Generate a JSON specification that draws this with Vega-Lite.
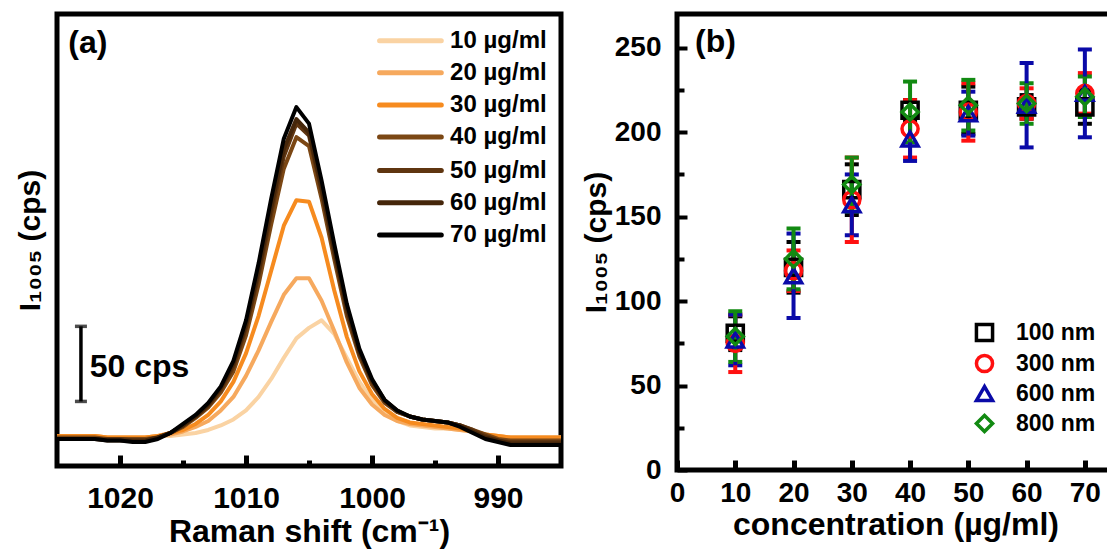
{
  "$schema": "https://vega.github.io/schema/vega-lite/v6.json",
  "background": "white",
  "padding": {"left": 12, "top": 11, "right": 0, "bottom": 0},
  "spacing": 12,
  "resolve": {"scale": {"color": "independent", "shape": "independent", "size": "independent"}, "legend": {"color": "independent", "shape": "independent", "size": "independent"}},
  "config": {
    "view": {"stroke": "#000", "strokeWidth": 5},
    "font": "Liberation Sans",
    "axis": {"labelFont": "Liberation Sans", "titleFont": "Liberation Sans", "labelFontWeight": "bold", "titleFontWeight": "bold", "labelColor": "#000", "titleColor": "#000", "tickColor": "#000", "grid": false, "domain": false, "labelOverlap": false, "labelFlush": false}
  },
  "datasets": {
    "spec": [
      {"x":1025,"y":20,"c":"10 µg/ml"},{"x":1024,"y":20,"c":"10 µg/ml"},{"x":1023,"y":20,"c":"10 µg/ml"},{"x":1022,"y":20,"c":"10 µg/ml"},{"x":1021,"y":19,"c":"10 µg/ml"},{"x":1020,"y":19,"c":"10 µg/ml"},{"x":1019,"y":19,"c":"10 µg/ml"},{"x":1018,"y":19,"c":"10 µg/ml"},{"x":1017,"y":20,"c":"10 µg/ml"},{"x":1016,"y":20,"c":"10 µg/ml"},{"x":1015,"y":21,"c":"10 µg/ml"},{"x":1014,"y":22,"c":"10 µg/ml"},{"x":1013,"y":24,"c":"10 µg/ml"},{"x":1012,"y":27,"c":"10 µg/ml"},{"x":1011,"y":31,"c":"10 µg/ml"},{"x":1010,"y":37,"c":"10 µg/ml"},{"x":1009,"y":46,"c":"10 µg/ml"},{"x":1008,"y":58,"c":"10 µg/ml"},{"x":1007,"y":72,"c":"10 µg/ml"},{"x":1006,"y":85,"c":"10 µg/ml"},{"x":1005,"y":92,"c":"10 µg/ml"},{"x":1004,"y":97,"c":"10 µg/ml"},{"x":1003,"y":88,"c":"10 µg/ml"},{"x":1002,"y":72,"c":"10 µg/ml"},{"x":1001,"y":56,"c":"10 µg/ml"},{"x":1000,"y":44,"c":"10 µg/ml"},{"x":999,"y":35,"c":"10 µg/ml"},{"x":998,"y":30,"c":"10 µg/ml"},{"x":997,"y":27,"c":"10 µg/ml"},{"x":996,"y":26,"c":"10 µg/ml"},{"x":995,"y":25,"c":"10 µg/ml"},{"x":994,"y":25,"c":"10 µg/ml"},{"x":993,"y":24,"c":"10 µg/ml"},{"x":992,"y":23,"c":"10 µg/ml"},{"x":991,"y":21,"c":"10 µg/ml"},{"x":990,"y":20,"c":"10 µg/ml"},{"x":989,"y":19,"c":"10 µg/ml"},{"x":988,"y":19,"c":"10 µg/ml"},{"x":987,"y":19,"c":"10 µg/ml"},{"x":986,"y":19,"c":"10 µg/ml"},{"x":985,"y":19,"c":"10 µg/ml"},
      {"x":1025,"y":20,"c":"20 µg/ml"},{"x":1024,"y":20,"c":"20 µg/ml"},{"x":1023,"y":20,"c":"20 µg/ml"},{"x":1022,"y":20,"c":"20 µg/ml"},{"x":1021,"y":19,"c":"20 µg/ml"},{"x":1020,"y":19,"c":"20 µg/ml"},{"x":1019,"y":19,"c":"20 µg/ml"},{"x":1018,"y":19,"c":"20 µg/ml"},{"x":1017,"y":20,"c":"20 µg/ml"},{"x":1016,"y":21,"c":"20 µg/ml"},{"x":1015,"y":23,"c":"20 µg/ml"},{"x":1014,"y":26,"c":"20 µg/ml"},{"x":1013,"y":30,"c":"20 µg/ml"},{"x":1012,"y":37,"c":"20 µg/ml"},{"x":1011,"y":46,"c":"20 µg/ml"},{"x":1010,"y":60,"c":"20 µg/ml"},{"x":1009,"y":77,"c":"20 µg/ml"},{"x":1008,"y":96,"c":"20 µg/ml"},{"x":1007,"y":114,"c":"20 µg/ml"},{"x":1006,"y":125,"c":"20 µg/ml"},{"x":1005,"y":125,"c":"20 µg/ml"},{"x":1004,"y":110,"c":"20 µg/ml"},{"x":1003,"y":90,"c":"20 µg/ml"},{"x":1002,"y":69,"c":"20 µg/ml"},{"x":1001,"y":52,"c":"20 µg/ml"},{"x":1000,"y":41,"c":"20 µg/ml"},{"x":999,"y":34,"c":"20 µg/ml"},{"x":998,"y":30,"c":"20 µg/ml"},{"x":997,"y":28,"c":"20 µg/ml"},{"x":996,"y":27,"c":"20 µg/ml"},{"x":995,"y":26,"c":"20 µg/ml"},{"x":994,"y":25,"c":"20 µg/ml"},{"x":993,"y":24,"c":"20 µg/ml"},{"x":992,"y":23,"c":"20 µg/ml"},{"x":991,"y":21,"c":"20 µg/ml"},{"x":990,"y":20,"c":"20 µg/ml"},{"x":989,"y":19,"c":"20 µg/ml"},{"x":988,"y":19,"c":"20 µg/ml"},{"x":987,"y":19,"c":"20 µg/ml"},{"x":986,"y":19,"c":"20 µg/ml"},{"x":985,"y":19,"c":"20 µg/ml"},
      {"x":1025,"y":20,"c":"30 µg/ml"},{"x":1024,"y":20,"c":"30 µg/ml"},{"x":1023,"y":20,"c":"30 µg/ml"},{"x":1022,"y":20,"c":"30 µg/ml"},{"x":1021,"y":19,"c":"30 µg/ml"},{"x":1020,"y":19,"c":"30 µg/ml"},{"x":1019,"y":19,"c":"30 µg/ml"},{"x":1018,"y":19,"c":"30 µg/ml"},{"x":1017,"y":20,"c":"30 µg/ml"},{"x":1016,"y":22,"c":"30 µg/ml"},{"x":1015,"y":24,"c":"30 µg/ml"},{"x":1014,"y":28,"c":"30 µg/ml"},{"x":1013,"y":34,"c":"30 µg/ml"},{"x":1012,"y":43,"c":"30 µg/ml"},{"x":1011,"y":56,"c":"30 µg/ml"},{"x":1010,"y":75,"c":"30 µg/ml"},{"x":1009,"y":100,"c":"30 µg/ml"},{"x":1008,"y":130,"c":"30 µg/ml"},{"x":1007,"y":160,"c":"30 µg/ml"},{"x":1006,"y":177,"c":"30 µg/ml"},{"x":1005,"y":176,"c":"30 µg/ml"},{"x":1004,"y":152,"c":"30 µg/ml"},{"x":1003,"y":117,"c":"30 µg/ml"},{"x":1002,"y":86,"c":"30 µg/ml"},{"x":1001,"y":63,"c":"30 µg/ml"},{"x":1000,"y":48,"c":"30 µg/ml"},{"x":999,"y":38,"c":"30 µg/ml"},{"x":998,"y":32,"c":"30 µg/ml"},{"x":997,"y":29,"c":"30 µg/ml"},{"x":996,"y":28,"c":"30 µg/ml"},{"x":995,"y":27,"c":"30 µg/ml"},{"x":994,"y":26,"c":"30 µg/ml"},{"x":993,"y":25,"c":"30 µg/ml"},{"x":992,"y":23,"c":"30 µg/ml"},{"x":991,"y":21,"c":"30 µg/ml"},{"x":990,"y":20,"c":"30 µg/ml"},{"x":989,"y":19,"c":"30 µg/ml"},{"x":988,"y":19,"c":"30 µg/ml"},{"x":987,"y":19,"c":"30 µg/ml"},{"x":986,"y":19,"c":"30 µg/ml"},{"x":985,"y":19,"c":"30 µg/ml"},
      {"x":1025,"y":19,"c":"40 µg/ml"},{"x":1024,"y":19,"c":"40 µg/ml"},{"x":1023,"y":19,"c":"40 µg/ml"},{"x":1022,"y":19,"c":"40 µg/ml"},{"x":1021,"y":18,"c":"40 µg/ml"},{"x":1020,"y":18,"c":"40 µg/ml"},{"x":1019,"y":18,"c":"40 µg/ml"},{"x":1018,"y":18,"c":"40 µg/ml"},{"x":1017,"y":19,"c":"40 µg/ml"},{"x":1016,"y":22,"c":"40 µg/ml"},{"x":1015,"y":26,"c":"40 µg/ml"},{"x":1014,"y":32,"c":"40 µg/ml"},{"x":1013,"y":39,"c":"40 µg/ml"},{"x":1012,"y":49,"c":"40 µg/ml"},{"x":1011,"y":63,"c":"40 µg/ml"},{"x":1010,"y":87,"c":"40 µg/ml"},{"x":1009,"y":121,"c":"40 µg/ml"},{"x":1008,"y":161,"c":"40 µg/ml"},{"x":1007,"y":198,"c":"40 µg/ml"},{"x":1006,"y":219,"c":"40 µg/ml"},{"x":1005,"y":213,"c":"40 µg/ml"},{"x":1004,"y":178,"c":"40 µg/ml"},{"x":1003,"y":138,"c":"40 µg/ml"},{"x":1002,"y":100,"c":"40 µg/ml"},{"x":1001,"y":73,"c":"40 µg/ml"},{"x":1000,"y":54,"c":"40 µg/ml"},{"x":999,"y":42,"c":"40 µg/ml"},{"x":998,"y":36,"c":"40 µg/ml"},{"x":997,"y":33,"c":"40 µg/ml"},{"x":996,"y":31,"c":"40 µg/ml"},{"x":995,"y":30,"c":"40 µg/ml"},{"x":994,"y":29,"c":"40 µg/ml"},{"x":993,"y":27,"c":"40 µg/ml"},{"x":992,"y":24,"c":"40 µg/ml"},{"x":991,"y":21,"c":"40 µg/ml"},{"x":990,"y":18,"c":"40 µg/ml"},{"x":989,"y":17,"c":"40 µg/ml"},{"x":988,"y":17,"c":"40 µg/ml"},{"x":987,"y":17,"c":"40 µg/ml"},{"x":986,"y":17,"c":"40 µg/ml"},{"x":985,"y":17,"c":"40 µg/ml"},
      {"x":1025,"y":18,"c":"50 µg/ml"},{"x":1024,"y":18,"c":"50 µg/ml"},{"x":1023,"y":18,"c":"50 µg/ml"},{"x":1022,"y":18,"c":"50 µg/ml"},{"x":1021,"y":18,"c":"50 µg/ml"},{"x":1020,"y":18,"c":"50 µg/ml"},{"x":1019,"y":17,"c":"50 µg/ml"},{"x":1018,"y":17,"c":"50 µg/ml"},{"x":1017,"y":19,"c":"50 µg/ml"},{"x":1016,"y":22,"c":"50 µg/ml"},{"x":1015,"y":27,"c":"50 µg/ml"},{"x":1014,"y":33,"c":"50 µg/ml"},{"x":1013,"y":40,"c":"50 µg/ml"},{"x":1012,"y":51,"c":"50 µg/ml"},{"x":1011,"y":66,"c":"50 µg/ml"},{"x":1010,"y":92,"c":"50 µg/ml"},{"x":1009,"y":127,"c":"50 µg/ml"},{"x":1008,"y":168,"c":"50 µg/ml"},{"x":1007,"y":206,"c":"50 µg/ml"},{"x":1006,"y":228,"c":"50 µg/ml"},{"x":1005,"y":220,"c":"50 µg/ml"},{"x":1004,"y":183,"c":"50 µg/ml"},{"x":1003,"y":142,"c":"50 µg/ml"},{"x":1002,"y":103,"c":"50 µg/ml"},{"x":1001,"y":75,"c":"50 µg/ml"},{"x":1000,"y":56,"c":"50 µg/ml"},{"x":999,"y":43,"c":"50 µg/ml"},{"x":998,"y":36,"c":"50 µg/ml"},{"x":997,"y":33,"c":"50 µg/ml"},{"x":996,"y":31,"c":"50 µg/ml"},{"x":995,"y":30,"c":"50 µg/ml"},{"x":994,"y":29,"c":"50 µg/ml"},{"x":993,"y":27,"c":"50 µg/ml"},{"x":992,"y":24,"c":"50 µg/ml"},{"x":991,"y":20,"c":"50 µg/ml"},{"x":990,"y":17,"c":"50 µg/ml"},{"x":989,"y":16,"c":"50 µg/ml"},{"x":988,"y":16,"c":"50 µg/ml"},{"x":987,"y":16,"c":"50 µg/ml"},{"x":986,"y":16,"c":"50 µg/ml"},{"x":985,"y":16,"c":"50 µg/ml"},
      {"x":1025,"y":18,"c":"60 µg/ml"},{"x":1024,"y":18,"c":"60 µg/ml"},{"x":1023,"y":18,"c":"60 µg/ml"},{"x":1022,"y":18,"c":"60 µg/ml"},{"x":1021,"y":17,"c":"60 µg/ml"},{"x":1020,"y":17,"c":"60 µg/ml"},{"x":1019,"y":17,"c":"60 µg/ml"},{"x":1018,"y":17,"c":"60 µg/ml"},{"x":1017,"y":19,"c":"60 µg/ml"},{"x":1016,"y":22,"c":"60 µg/ml"},{"x":1015,"y":27,"c":"60 µg/ml"},{"x":1014,"y":33,"c":"60 µg/ml"},{"x":1013,"y":41,"c":"60 µg/ml"},{"x":1012,"y":52,"c":"60 µg/ml"},{"x":1011,"y":68,"c":"60 µg/ml"},{"x":1010,"y":94,"c":"60 µg/ml"},{"x":1009,"y":130,"c":"60 µg/ml"},{"x":1008,"y":172,"c":"60 µg/ml"},{"x":1007,"y":211,"c":"60 µg/ml"},{"x":1006,"y":231,"c":"60 µg/ml"},{"x":1005,"y":222,"c":"60 µg/ml"},{"x":1004,"y":185,"c":"60 µg/ml"},{"x":1003,"y":144,"c":"60 µg/ml"},{"x":1002,"y":105,"c":"60 µg/ml"},{"x":1001,"y":76,"c":"60 µg/ml"},{"x":1000,"y":57,"c":"60 µg/ml"},{"x":999,"y":44,"c":"60 µg/ml"},{"x":998,"y":37,"c":"60 µg/ml"},{"x":997,"y":33,"c":"60 µg/ml"},{"x":996,"y":31,"c":"60 µg/ml"},{"x":995,"y":30,"c":"60 µg/ml"},{"x":994,"y":29,"c":"60 µg/ml"},{"x":993,"y":27,"c":"60 µg/ml"},{"x":992,"y":23,"c":"60 µg/ml"},{"x":991,"y":19,"c":"60 µg/ml"},{"x":990,"y":17,"c":"60 µg/ml"},{"x":989,"y":15,"c":"60 µg/ml"},{"x":988,"y":15,"c":"60 µg/ml"},{"x":987,"y":15,"c":"60 µg/ml"},{"x":986,"y":15,"c":"60 µg/ml"},{"x":985,"y":15,"c":"60 µg/ml"},
      {"x":1025,"y":18,"c":"70 µg/ml"},{"x":1024,"y":18,"c":"70 µg/ml"},{"x":1023,"y":18,"c":"70 µg/ml"},{"x":1022,"y":18,"c":"70 µg/ml"},{"x":1021,"y":17,"c":"70 µg/ml"},{"x":1020,"y":17,"c":"70 µg/ml"},{"x":1019,"y":16,"c":"70 µg/ml"},{"x":1018,"y":16,"c":"70 µg/ml"},{"x":1017,"y":18,"c":"70 µg/ml"},{"x":1016,"y":22,"c":"70 µg/ml"},{"x":1015,"y":28,"c":"70 µg/ml"},{"x":1014,"y":34,"c":"70 µg/ml"},{"x":1013,"y":42,"c":"70 µg/ml"},{"x":1012,"y":53,"c":"70 µg/ml"},{"x":1011,"y":70,"c":"70 µg/ml"},{"x":1010,"y":97,"c":"70 µg/ml"},{"x":1009,"y":135,"c":"70 µg/ml"},{"x":1008,"y":178,"c":"70 µg/ml"},{"x":1007,"y":218,"c":"70 µg/ml"},{"x":1006,"y":239,"c":"70 µg/ml"},{"x":1005,"y":228,"c":"70 µg/ml"},{"x":1004,"y":190,"c":"70 µg/ml"},{"x":1003,"y":148,"c":"70 µg/ml"},{"x":1002,"y":108,"c":"70 µg/ml"},{"x":1001,"y":78,"c":"70 µg/ml"},{"x":1000,"y":58,"c":"70 µg/ml"},{"x":999,"y":44,"c":"70 µg/ml"},{"x":998,"y":37,"c":"70 µg/ml"},{"x":997,"y":33,"c":"70 µg/ml"},{"x":996,"y":31,"c":"70 µg/ml"},{"x":995,"y":30,"c":"70 µg/ml"},{"x":994,"y":29,"c":"70 µg/ml"},{"x":993,"y":26,"c":"70 µg/ml"},{"x":992,"y":22,"c":"70 µg/ml"},{"x":991,"y":18,"c":"70 µg/ml"},{"x":990,"y":16,"c":"70 µg/ml"},{"x":989,"y":14,"c":"70 µg/ml"},{"x":988,"y":14,"c":"70 µg/ml"},{"x":987,"y":14,"c":"70 µg/ml"},{"x":986,"y":14,"c":"70 µg/ml"},{"x":985,"y":14,"c":"70 µg/ml"}
    ],
    "legA": [
      {"x":999.4,"x2":994.5,"y":283.2,"c":"10 µg/ml"},
      {"x":999.4,"x2":994.5,"y":261.9,"c":"20 µg/ml"},
      {"x":999.4,"x2":994.5,"y":240.4,"c":"30 µg/ml"},
      {"x":999.4,"x2":994.5,"y":219.1,"c":"40 µg/ml"},
      {"x":999.4,"x2":994.5,"y":196.7,"c":"50 µg/ml"},
      {"x":999.4,"x2":994.5,"y":175.3,"c":"60 µg/ml"},
      {"x":999.4,"x2":994.5,"y":153.8,"c":"70 µg/ml"}
    ],
    "legAText": [
      {"x":993.8,"y":283.2,"t":"10 µg/ml"},
      {"x":993.8,"y":261.9,"t":"20 µg/ml"},
      {"x":993.8,"y":240.4,"t":"30 µg/ml"},
      {"x":993.8,"y":219.1,"t":"40 µg/ml"},
      {"x":993.8,"y":196.7,"t":"50 µg/ml"},
      {"x":993.8,"y":175.3,"t":"60 µg/ml"},
      {"x":993.8,"y":153.8,"t":"70 µg/ml"}
    ],
    "barA": [{"x":1023.1,"y":43,"y2":93}],
    "txtA": [
      {"x":1022.4,"y":66,"t":"50 cps"},
      {"x":1024.1,"y":282,"t":"(a)"}
    ],
    "resB": [
      {"x":10,"y":81,"e":10,"n":"100 nm"},{"x":20,"y":120,"e":15,"n":"100 nm"},{"x":30,"y":166,"e":15,"n":"100 nm"},{"x":40,"y":213,"e":6,"n":"100 nm"},{"x":50,"y":213,"e":14,"n":"100 nm"},{"x":60,"y":215,"e":7,"n":"100 nm"},{"x":70,"y":215,"e":10,"n":"100 nm"},
      {"x":10,"y":75,"e":17,"n":"300 nm"},{"x":20,"y":118,"e":12,"n":"300 nm"},{"x":30,"y":160,"e":25,"n":"300 nm"},{"x":40,"y":202,"e":17,"n":"300 nm"},{"x":50,"y":212,"e":17,"n":"300 nm"},{"x":60,"y":217,"e":9,"n":"300 nm"},{"x":70,"y":223,"e":12,"n":"300 nm"},
      {"x":10,"y":77,"e":15,"n":"600 nm"},{"x":20,"y":115,"e":25,"n":"600 nm"},{"x":30,"y":157,"e":18,"n":"600 nm"},{"x":40,"y":196,"e":13,"n":"600 nm"},{"x":50,"y":211,"e":13,"n":"600 nm"},{"x":60,"y":216,"e":25,"n":"600 nm"},{"x":70,"y":223,"e":26,"n":"600 nm"},
      {"x":10,"y":79,"e":15,"n":"800 nm"},{"x":20,"y":125,"e":18,"n":"800 nm"},{"x":30,"y":169,"e":16,"n":"800 nm"},{"x":40,"y":212,"e":18,"n":"800 nm"},{"x":50,"y":216,"e":15,"n":"800 nm"},{"x":60,"y":217,"e":12,"n":"800 nm"},{"x":70,"y":221,"e":12,"n":"800 nm"}
    ],
    "txtB": [{"x":3.1,"y":253.5,"t":"(b)"}]
  },
  "hconcat": [
    {
      "width": 504,
      "height": 452,
      "encoding": {
        "x": {"field": "x", "type": "quantitative", "scale": {"domain": [985, 1025], "reverse": true, "nice": false, "zero": false},
          "axis": {"title": "Raman shift (cm⁻¹)", "values": [1020, 1015, 1010, 1005, 1000, 995, 990], "format": "d",
            "labelExpr": "datum.value % 10 === 0 ? datum.label : ''",
            "tickSize": {"condition": {"test": "datum.value % 10 === 0", "value": -11}, "value": -6},
            "tickWidth": 5, "labelFontSize": 30, "labelPadding": 28, "titleFontSize": 32, "titlePadding": -2}},
        "y": {"field": "y", "type": "quantitative", "scale": {"domain": [0, 301], "nice": false, "zero": false},
          "axis": {"title": "I₁₀₀₅ (cps)", "ticks": false, "labels": false, "titleFontSize": 30, "titlePadding": 12}}
      },
      "layer": [
        {
          "data": {"name": "spec"},
          "mark": {"type": "line", "strokeWidth": 4, "strokeJoin": "round"},
          "encoding": {
            "color": {"field": "c", "type": "nominal",
              "scale": {"domain": ["10 µg/ml", "20 µg/ml", "30 µg/ml", "40 µg/ml", "50 µg/ml", "60 µg/ml", "70 µg/ml"],
                        "range": ["#fad3a3", "#f6a95e", "#f68b1f", "#7b4714", "#5f3510", "#45260a", "#000000"]},
              "legend": null}
          }
        },
        {
          "data": {"name": "legA"},
          "mark": {"type": "rule", "strokeWidth": 5, "strokeCap": "round"},
          "encoding": {
            "x2": {"field": "x2"},
            "color": {"field": "c", "type": "nominal", "legend": null}
          }
        },
        {
          "data": {"name": "legAText"},
          "mark": {"type": "text", "align": "left", "baseline": "middle", "fontSize": 24, "fontWeight": "bold", "font": "Liberation Sans", "color": "#000"},
          "encoding": {"text": {"field": "t"}}
        },
        {
          "data": {"name": "barA"},
          "mark": {"type": "errorbar", "color": "#000", "thickness": 3.5, "ticks": {"size": 12, "thickness": 3.5}},
          "encoding": {"y2": {"field": "y2"}}
        },
        {
          "data": {"name": "txtA"},
          "mark": {"type": "text", "align": "left", "baseline": "middle", "fontSize": 32, "fontWeight": "bold", "font": "Liberation Sans", "color": "#000"},
          "encoding": {"text": {"field": "t"}}
        }
      ]
    },
    {
      "width": 437,
      "height": 456,
      "resolve": {"legend": {"color": "independent", "shape": "independent", "size": "independent"}},
      "encoding": {
        "x": {"field": "x", "type": "quantitative", "scale": {"domain": [0, 75], "nice": false},
          "axis": {"title": "concentration (µg/ml)", "values": [0, 10, 20, 30, 40, 50, 60, 70], "format": "d",
            "tickSize": -10, "tickWidth": 5, "labelFontSize": 28, "labelPadding": 19, "titleFontSize": 32, "titlePadding": 2}},
        "y": {"field": "y", "type": "quantitative", "scale": {"domain": [0, 270], "nice": false},
          "axis": {"title": "I₁₀₀₅ (cps)", "values": [0, 25, 50, 75, 100, 125, 150, 175, 200, 225, 250], "format": "d",
            "labelExpr": "datum.value % 50 === 0 ? datum.label : ''",
            "tickSize": {"condition": {"test": "datum.value % 50 === 0", "value": -10}, "value": -7},
            "tickWidth": 4, "labelFontSize": 28, "labelPadding": 26, "titleFontSize": 30, "titlePadding": 3}}
      },
      "layer": [
        {
          "data": {"name": "resB"},
          "mark": {"type": "errorbar", "thickness": 4, "opacity": 1, "ticks": {"size": 14, "thickness": 4, "opacity": 1}, "rule": {"opacity": 1}},
          "encoding": {
            "yError": {"field": "e"},
            "color": {"field": "n", "type": "nominal",
              "scale": {"domain": ["100 nm", "300 nm", "600 nm", "800 nm"], "range": ["#000000", "#ff1010", "#0a0aa8", "#128a12"]},
              "legend": null}
          }
        },
        {
          "data": {"name": "resB"},
          "mark": {"type": "point", "filled": false, "strokeWidth": 3.5, "opacity": 1},
          "encoding": {
            "color": {"field": "n", "type": "nominal",
              "scale": {"domain": ["100 nm", "300 nm", "600 nm", "800 nm"], "range": ["#000000", "#ff1010", "#0a0aa8", "#128a12"]},
              "legend": {"title": null, "orient": "none", "legendX": 296, "legendY": 307, "labelFontSize": 23, "labelFont": "Liberation Sans", "labelFontWeight": "bold", "labelColor": "#000", "symbolStrokeWidth": 3.5, "symbolOpacity": 1, "rowPadding": 0, "labelOffset": 20, "padding": 0}},
            "shape": {"field": "n", "type": "nominal",
              "scale": {"domain": ["100 nm", "300 nm", "600 nm", "800 nm"], "range": ["square", "circle", "triangle-up", "diamond"]},
              "legend": {"title": null, "orient": "none", "legendX": 296, "legendY": 307, "labelFontSize": 23, "labelFont": "Liberation Sans", "labelFontWeight": "bold", "labelColor": "#000", "symbolStrokeWidth": 3.5, "symbolOpacity": 1, "rowPadding": 0, "labelOffset": 20, "padding": 0}},
            "size": {"field": "n", "type": "nominal",
              "scale": {"domain": ["100 nm", "300 nm", "600 nm", "800 nm"], "range": [260, 260, 420, 620]},
              "legend": {"title": null, "orient": "none", "legendX": 296, "legendY": 307, "labelFontSize": 23, "labelFont": "Liberation Sans", "labelFontWeight": "bold", "labelColor": "#000", "symbolStrokeWidth": 3.5, "symbolOpacity": 1, "rowPadding": 0, "labelOffset": 20, "padding": 0}}
          }
        },
        {
          "data": {"name": "txtB"},
          "mark": {"type": "text", "align": "left", "baseline": "middle", "fontSize": 32, "fontWeight": "bold", "font": "Liberation Sans", "color": "#000"},
          "encoding": {"text": {"field": "t"}}
        }
      ]
    }
  ]
}
